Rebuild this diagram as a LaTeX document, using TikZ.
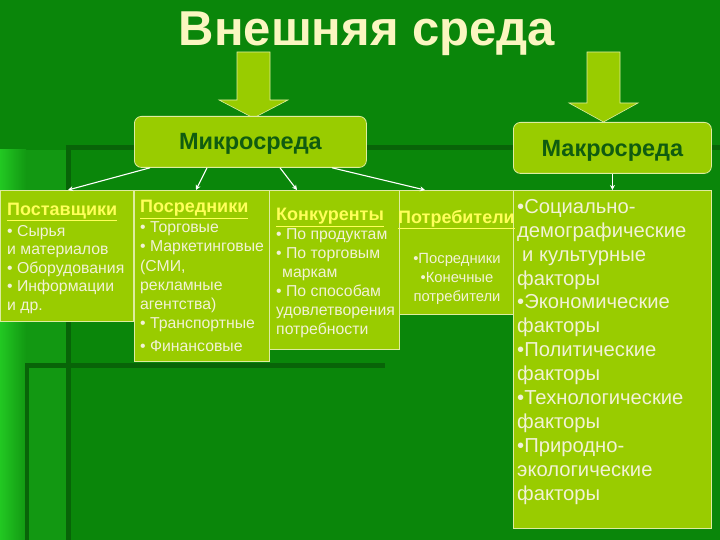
\documentclass[tikz,border=0pt]{standalone}
\usepackage{fontspec}
\setmainfont{Liberation Sans}
\usetikzlibrary{arrows.meta}
\definecolor{bg}{RGB}{10,134,10}
\definecolor{bgleft}{RGB}{34,200,34}
\definecolor{bgmid}{RGB}{18,152,18}
\definecolor{darkline}{RGB}{8,100,8}
\definecolor{boxfill}{RGB}{153,204,0}
\definecolor{boxborder}{RGB}{222,236,160}
\definecolor{titlecol}{RGB}{250,246,192}
\definecolor{headcol}{RGB}{255,255,90}
\definecolor{itemcol}{RGB}{242,242,214}
\definecolor{microcol}{RGB}{16,92,16}
\tikzset{
  box/.style={draw=boxborder, line width=0.8pt, fill=boxfill, inner sep=0pt, anchor=north west},
  rbox/.style={box, rounded corners=7pt},
  head/.style={anchor=north west, inner sep=0pt, text=headcol, font=\fontsize{18}{20}\selectfont\bfseries},
  items/.style={anchor=north west, inner sep=0pt, align=left, text=itemcol, font=\fontsize{15.8}{19.1}\selectfont},
  conn/.style={draw=white, line width=1.1pt, -{Stealth[length=5pt,width=5pt]}},
  blockarrow/.style={fill=boxfill, draw=boxborder, line width=0.6pt}
}
\newcommand{\hd}[1]{\underline{#1}}
\begin{document}
\begin{tikzpicture}[x=1pt,y=-1pt]
\useasboundingbox (0,0) rectangle (720,540);
% background
\fill[bg] (0,0) rectangle (720,540);
\fill[bgmid] (0,150) rectangle (68,540);
\shade[left color=bgleft, right color=bgmid] (0,150) rectangle (26,540);
\fill[darkline] (66,145) rectangle (71,540);
\fill[darkline] (66,145) rectangle (720,150);
\fill[darkline] (25,363) rectangle (385,368);
\fill[darkline] (25,363) rectangle (29,540);
% title
\node[text=titlecol, font=\fontsize{49}{52}\selectfont\bfseries, inner sep=0pt] (title) at (367,34) {Внешняя среда};
% block arrows
\draw[blockarrow] (237,52) -- (270,52) -- (270,100) -- (288,100) -- (253.5,118) -- (219,100) -- (237,100) -- cycle;
\draw[blockarrow] (587,52) -- (620,52) -- (620,103) -- (638,103) -- (603.5,122) -- (569,103) -- (587,103) -- cycle;
% top boxes
\node[rbox, minimum width=232pt, minimum height=51pt] (micro) at (134,116) {};
\node[text=microcol, font=\fontsize{23.5}{26}\selectfont\bfseries] at ([yshift=-2pt]micro.center) {Микросреда};
\node[rbox, minimum width=198pt, minimum height=51pt] (macro) at (513,122) {};
\node[text=microcol, font=\fontsize{23.5}{26}\selectfont\bfseries] at ([yshift=-3pt]macro.center) {Макросреда};
% lower boxes
\node[box, minimum width=133pt, minimum height=131pt] (sup) at (0,190) {};
\node[box, minimum width=135pt, minimum height=171pt] (mid) at (134,190) {};
\node[box, minimum width=130pt, minimum height=159pt] (comp) at (269,190) {};
\node[box, minimum width=114pt, minimum height=124pt] (cons) at (399,190) {};
\node[box, minimum width=198pt, minimum height=338pt] (fact) at (513,190) {};
% connectors
\draw[conn] ([xshift=16pt]micro.south west) -- ([xshift=68pt]sup.north west);
\draw[conn] ([xshift=73pt]micro.south west) -- ([xshift=62pt]mid.north west);
\draw[conn] ([xshift=146pt]micro.south west) -- ([xshift=28pt]comp.north west);
\draw[conn] ([xshift=198pt]micro.south west) -- ([xshift=26pt]cons.north west);
\draw[conn] (macro.south) -- (fact.north -| macro.south);
% texts: suppliers
\node[head] at (7,203) {\hd{Поставщики}};
\node[items, font=\fontsize{15.8}{18.5}\selectfont] at (7,225) {• Сырья\\и материалов\\• Оборудования\\• Информации\\и др.};
% intermediaries
\node[head] at (140,200) {\hd{Посредники}};
\node[items] at (140,221) {• Торговые\\[0.8pt]• Маркетинговые\\(СМИ,\\рекламные\\агентства)\\[0.2pt]• Транспортные\\[4pt]• Финансовые};
% competitors
\node[head] at (276,208) {\hd{Конкуренты}};
\node[items] at (276,228) {• По продуктам\\• По торговым\\\hspace*{6pt}маркам\\• По способам\\удовлетворения\\потребности};
% consumers
\node[head] at (398,210) {\hd{Потребители}};
\node[items, align=center, anchor=north, font=\fontsize{14.8}{19}\selectfont] at (457,253) {•Посредники\\•Конечные\\потребители};
% macro factors
\node[items, font=\fontsize{20.2}{23.9}\selectfont] at (517,199) {•Социально-\\демографические\\\hspace*{5pt}и культурные\\факторы\\•Экономические\\факторы\\•Политические\\факторы\\•Технологические\\факторы\\•Природно-\\экологические\\факторы};
\end{tikzpicture}
\end{document}
